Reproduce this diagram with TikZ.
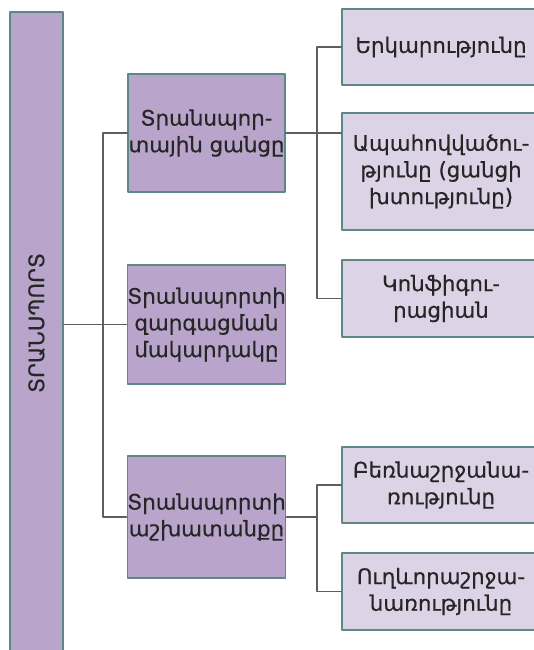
\documentclass[tikz,border=0pt]{standalone}
\usepackage{fontspec}
\setmainfont{DejaVu Sans}[FakeBold=0.5]
\usepackage{xcolor}
\usetikzlibrary{positioning,calc}
\definecolor{rootfill}{HTML}{B9A5CB}
\definecolor{leaffill}{HTML}{DDD3E6}
\definecolor{edgeline}{HTML}{5E8787}
\definecolor{linkgray}{HTML}{5E5E5E}
\definecolor{txtgray}{HTML}{262626}

\begin{document}
\begin{tikzpicture}[x=0.75pt, y=-0.75pt, line cap=round, line join=round,
  box/.style={draw=edgeline, line width=1pt, text=txtgray, align=center,
    inner sep=0pt, font=\fontsize{16}{20}\selectfont},
  rootbox/.style={box, fill=rootfill, minimum width=53*0.75pt, minimum height=642*0.75pt},
  roottext/.style={text=txtgray, rotate=90, inner sep=0pt, font=\fontsize{16}{20}\selectfont},
  midbox/.style={box, fill=rootfill, minimum width=157*0.75pt},
  leafbox/.style={box, fill=leaffill, minimum width=198*0.75pt},
  link/.style={draw=linkgray, line width=0.9pt}]

% --- page size in pixels of the reference ---
\useasboundingbox (0,0) rectangle (534,650);

% trunk positions
\def\xL{103}
\def\xR{317}

% ------------------ root ------------------
\node[rootbox] (root) at (36.5,333) {};
\node[roottext] (roottxt) at ([yshift=7.5pt]root.center) {ՏՐԱՆՍՊՈՐՏ};

% ------------------ middle column ------------------
\node[midbox, minimum height=118*0.75pt] (net) at (206.5,133) {Տրանսպոր-\\տային ցանցը};
\node[midbox, minimum height=119*0.75pt] (level) at (206.5,324.5) {Տրանսպորտի\\զարգացման\\մակարդակը};
\node[midbox, minimum height=122*0.75pt] (work) at (206.5,517) {Տրանսպորտի\\աշխատանքը};

% ------------------ right column ------------------
\node[leafbox, minimum height=76*0.75pt] (length) at (441,47) {Երկարությունը};
\node[leafbox, minimum height=117*0.75pt] (density) at (441,171.5) {Ապահովվածու-\\թյունը (ցանցի\\խտությունը)};
\node[leafbox, minimum height=77*0.75pt] (config) at (441,298.5) {Կոնֆիգու-\\րացիան};
\node[leafbox, minimum height=76*0.75pt] (freight) at (441,485) {Բեռնաշրջանա-\\ռությունը};
\node[leafbox, minimum height=77*0.75pt] (passenger) at (441,591.5) {Ուղևորաշրջա-\\նառությունը};

\coordinate (tl) at (\xL,0);
\coordinate (tr) at (\xR,0);

% connectors
\draw[link] (root.east |- level.west) -- (level.west);
\draw[link] (net.west) -- (net.west -| tl) -- (work.west -| tl) -- (work.west);
\draw[link] (net.east) -- (net.east -| density.west);
\draw[link] (length.west) -- (length.west -| tr) -- (config.west -| tr) -- (config.west);
\draw[link] (work.east) -- (work.east -| tr);
\draw[link] (freight.west) -- (freight.west -| tr) -- (passenger.west -| tr) -- (passenger.west);

\end{tikzpicture}
\end{document}
